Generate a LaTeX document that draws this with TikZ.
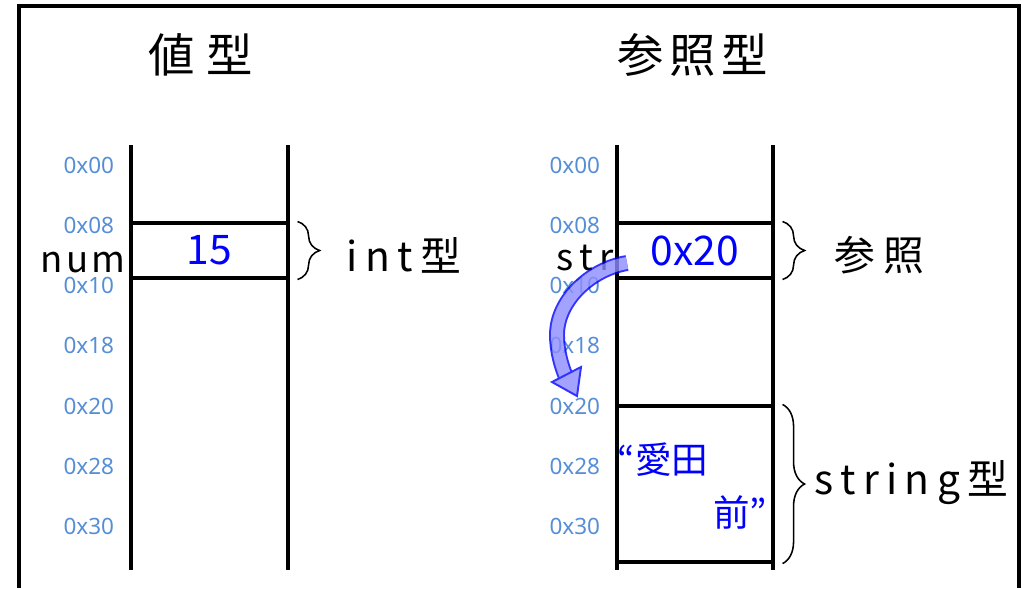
\documentclass[tikz,border=0pt]{standalone}
\usepackage{fontspec}
\usetikzlibrary{decorations.pathreplacing}
\newfontfamily\handfont[LetterSpace=18]{Noto Sans CJK JP}
\newfontfamily\namefont[LetterSpace=10]{Noto Sans CJK JP}
\newfontfamily\plainhand{Noto Sans CJK JP}
\newfontfamily\addrfont{Noto Sans}
\definecolor{addrblue}{RGB}{86,142,214}
\definecolor{inkblue}{RGB}{0,0,255}
\begin{document}
\begin{tikzpicture}[x=0.025cm, y=-0.025cm,
  wall/.style={line width=2.9pt},
  cell/.style={draw, line width=2.2pt, inner sep=0pt},
  addr/.style={anchor=east, text=addrblue, font=\addrfont\fontsize{16}{16}\selectfont},
  title/.style={font=\plainhand\fontsize{33}{33}\selectfont},
  hand/.style={font=\handfont\fontsize{29}{29}\selectfont},
  varname/.style={font=\namefont\fontsize{26}{26}\selectfont, anchor=south east,
    inner sep=0pt, text height=0.5em, text depth=0pt},
  value/.style={text=inkblue, font=\plainhand\fontsize{29}{29}\selectfont},
  bracket/.style={decorate, decoration={brace, amplitude=0.55cm}, line width=1.1pt},
  ptr shaft/.style={draw=inkblue, line width=1.4pt, double=inkblue!45, double distance=8.5pt},
  ptr head/.style={draw=inkblue, line width=1.4pt, fill=inkblue!45, line join=miter}]
\useasboundingbox (0,0) rectangle (1026,588);
\draw[line width=2.2pt, line join=miter] (19,588) -- (19,6) -- (1019,6) -- (1019,588);

% titles
\node[title] (val title) at (201,55) {値\hspace{0.25em}型};
\node[title] (ref title) at (693,55) {参\hspace{0.12em}照\hspace{0.12em}型};

% memory columns
\draw[wall] (131,145) -- (131,570);
\draw[wall] (288,145) -- (288,570);
\draw[wall] (617,145) -- (617,570);
\draw[wall] (773,145) -- (773,570);

\node[cell, value, minimum width=3.925cm, minimum height=1.375cm] (num cell) at (209.5,250.5) {15};
\node[cell, value, minimum width=3.9cm, minimum height=1.375cm] (ref cell) at (695,250.5) {0x20};
\node[cell, minimum width=3.9cm, minimum height=3.9cm] (str cell) at (695,484) {};

% addresses
\foreach \a [count=\i from 0] in {00,08,10,18,20,28,30} {
  \node[addr] (val addr \i) at (119,{165+60.3*\i}) {0x\a};
  \node[addr] (ref addr \i) at (605,{165+60.3*\i}) {0x\a};
}

% names and types
\node[varname] (num name) at (126,273) {num};
\node[varname, font=\handfont\fontsize{26}{26}\selectfont] (str name) at (614,271) {str};
\node[hand, anchor=west] (int label) at (342,255) {int型};
\node[hand, anchor=west] (ref label) at (830,255) {参照};
\node[hand, anchor=west] (str label) at (810,483) {string型};

\node[value, font=\plainhand\fontsize{26}{26}\selectfont, anchor=west] (str text a) at (613,460) {“愛田};
\node[value, font=\plainhand\fontsize{26}{26}\selectfont, anchor=east] (str text b) at (772,512) {前”};

\draw[bracket] ([xshift=0.2cm]num cell.north east) -- ([xshift=0.2cm]num cell.south east);
\draw[bracket] ([xshift=0.2cm]ref cell.north east) -- ([xshift=0.2cm]ref cell.south east);
\draw[bracket] ([xshift=0.2cm]str cell.north east) -- ([xshift=0.2cm]str cell.south east);

% pointer arrow
\coordinate (ptr tail) at (627,263);
\coordinate (ptr bend) at (557,335);
\coordinate (ptr end) at (566,377);
\coordinate (ptr tip) at (577,396);
\begin{scope}[transparency group, opacity=.8]
\draw[ptr shaft] (ptr tail) .. controls +(-36,6) and +(0,-35) .. (ptr bend)
  .. controls +(0,15) and +(-5,-12) .. (ptr end);
\draw[ptr head] (552,382) -- (ptr tip) -- (581,367) -- cycle;
\end{scope}
\end{tikzpicture}
\end{document}
